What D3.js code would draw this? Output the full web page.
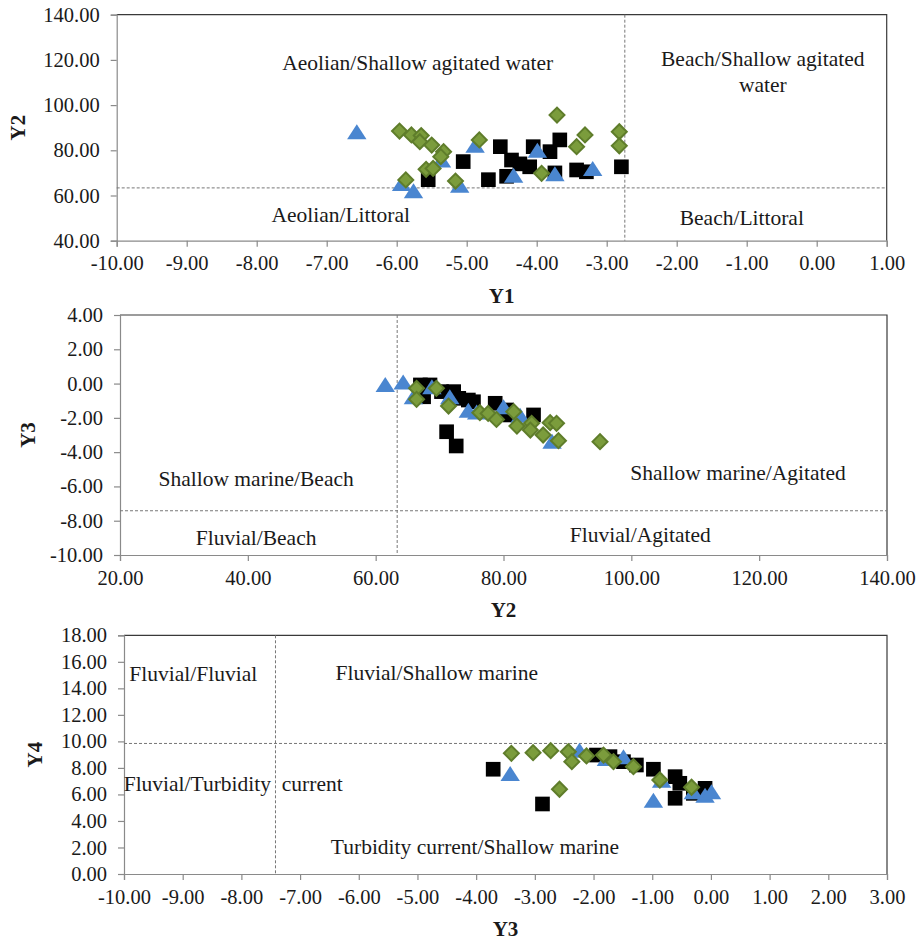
<!DOCTYPE html>
<html>
<head>
<meta charset="utf-8">
<script src="https://cdn.jsdelivr.net/npm/d3@7"></script>
<style>
  html, body { margin: 0; padding: 0; background: #fff; }
  svg text { font-family: "Liberation Serif", "Times New Roman", serif; fill: #1a1a1a; }
</style>
</head>
<body>
<svg id="chart" width="922" height="942"></svg>
<script>
// Sahu discriminant-function thresholds
const y1Limit = -2.7411;
const y2Limit = 63.365;
const y3Limit = -7.419;
const y4Limit = 9.8433;

// Panel 1: Y1 (x) vs Y2 (y)
const y1y2Square = [
  [-5.55, 67.0], [-5.05, 75.0], [-4.69, 67.0], [-4.52, 81.6], [-4.36, 75.7], [-4.43, 68.5],
  [-4.24, 74.0], [-4.10, 72.7], [-4.05, 81.6], [-3.81, 79.4], [-3.67, 84.6], [-3.74, 70.0],
  [-3.43, 71.3], [-3.29, 70.5], [-2.79, 72.7]
];
const y1y2Triangle = [
  [-6.57, 87.5], [-4.88, 81.6], [-5.36, 75.0], [-5.93, 64.6], [-5.76, 61.4], [-5.10, 63.9],
  [-3.99, 79.4], [-4.33, 68.3], [-3.74, 69.0], [-3.20, 71.3]
];
const y1y2Diamond = [
  [-5.96, 88.5], [-5.79, 86.8], [-5.65, 86.5], [-5.67, 83.8], [-5.50, 82.3], [-5.33, 79.4],
  [-5.37, 77.2], [-5.58, 71.6], [-5.48, 72.0], [-5.87, 66.9], [-5.16, 66.4], [-4.82, 84.6],
  [-3.71, 95.6], [-3.31, 86.8], [-3.43, 81.6], [-2.82, 88.2], [-2.82, 82.0], [-3.93, 69.8]
];

// Panel 2: Y2 (x) vs Y3 (y)
const y2y3Square = [
  [67.0, -0.08], [68.5, -0.08], [67.5, -0.77], [70.3, -0.47], [72.2, -0.47], [73.0, -0.86],
  [74.5, -0.96], [75.3, -1.06], [78.7, -1.15], [80.5, -1.54], [81.0, -1.83], [84.7, -1.83],
  [71.1, -2.81], [72.6, -3.64]
];
const y2y3Triangle = [
  [61.5, -0.14], [64.3, 0.0], [65.9, -0.86], [68.8, -0.28], [71.6, -0.86], [74.5, -1.64],
  [75.8, -1.74], [80.0, -1.44], [82.6, -1.93], [87.6, -3.45]
];
const y2y3Diamond = [
  [66.4, -0.28], [66.4, -0.92], [69.5, -0.28], [71.4, -1.31], [76.3, -1.70], [77.6, -1.74],
  [78.9, -2.09], [81.6, -1.64], [82.1, -2.48], [84.4, -2.32], [84.2, -2.71], [86.2, -3.00],
  [87.3, -2.28], [88.3, -2.32], [88.6, -3.33], [95.1, -3.39]
];

// Panel 3: Y3 (x) vs Y4 (y)
const y3y4Square = [
  [-3.71, 7.90], [-2.87, 5.28], [-1.95, 8.97], [-1.72, 8.85], [-1.49, 8.47], [-1.27, 8.22],
  [-0.98, 7.90], [-0.61, 7.34], [-0.61, 5.71], [-0.53, 6.84], [-0.10, 6.46], [-0.30, 6.08]
];
const y3y4Triangle = [
  [-3.42, 7.47], [-2.24, 9.22], [-1.78, 8.60], [-1.49, 8.72], [-0.98, 5.45], [-0.84, 6.96],
  [-0.30, 6.08], [-0.10, 5.83], [0.01, 6.08]
];
const y3y4Diamond = [
  [-3.40, 9.10], [-3.03, 9.15], [-2.73, 9.30], [-2.43, 9.22], [-2.37, 8.47], [-2.12, 8.90],
  [-1.83, 8.97], [-1.66, 8.47], [-1.32, 8.09], [-0.87, 7.09], [-0.33, 6.54], [-2.58, 6.39]
];

// Tick values
const y1Ticks = [-10, -9, -8, -7, -6, -5, -4, -3, -2, -1, 0, 1];
const y2Ticks = [40, 60, 80, 100, 120, 140];
const y2TicksX = [20, 40, 60, 80, 100, 120, 140];
const y3Ticks = [-10, -8, -6, -4, -2, 0, 2, 4];
const y3TicksX = [-10, -9, -8, -7, -6, -5, -4, -3, -2, -1, 0, 1, 2, 3];
const y4Ticks = [0, 2, 4, 6, 8, 10, 12, 14, 16, 18];

// Environment labels, placed in data coordinates
const labels1 = [
  { t: "Aeolian/Shallow agitated water", x: -5.70, y: 118.6 },
  { t: "Beach/Shallow agitated", x: -0.77, y: 120.4 },
  { t: "water", x: -0.77, y: 108.9 },
  { t: "Aeolian/Littoral", x: -6.80, y: 51.3 },
  { t: "Beach/Littoral", x: -1.07, y: 50.0 }
];
const labels2 = [
  { t: "Shallow marine/Beach", x: 41.3, y: -5.57 },
  { t: "Shallow marine/Agitated", x: 116.7, y: -5.22 },
  { t: "Fluvial/Beach", x: 41.3, y: -9.01 },
  { t: "Fluvial/Agitated", x: 101.4, y: -8.84 }
];
const labels3 = [
  { t: "Fluvial/Fluvial", x: -8.82, y: 15.08 },
  { t: "Fluvial/Shallow marine", x: -4.67, y: 15.16 },
  { t: "Fluvial/Turbidity\u00a0\u00a0current", x: -8.14, y: 6.79 },
  { t: "Turbidity current/Shallow marine", x: -4.02, y: 2.04 }
];

const svg = d3.select("#chart");
const SERIF = "'Liberation Serif', 'Times New Roman', serif";
const fmt = d3.formatLocale({ decimal: ".", thousands: ",", grouping: [3], currency: ["", ""], minus: "-" }).format(".2f");

const symSquare = d3.symbol().type(d3.symbolSquare).size(215)();
const symTriangle = d3.symbol().type(d3.symbolTriangle).size(130)();
const symDiamond = d3.symbol().type(d3.symbolSquare).size(112)();

function panel(cfg) {
  const x = d3.scaleLinear().domain(cfg.xDomain).range([cfg.left, cfg.right]);
  const y = d3.scaleLinear().domain(cfg.yDomain).range([cfg.bottom, cfg.top]);
  const g = svg.append("g");

  // frame: top and right edges
  g.append("path")
    .attr("d", `M${cfg.left},${cfg.top}H${cfg.right}V${cfg.bottom}`)
    .attr("fill", "none").attr("stroke", "#3a3a3a").attr("stroke-width", 1.2);

  // axes
  const xAxis = g.append("g").attr("transform", `translate(0,${cfg.bottom})`)
    .call(d3.axisBottom(x).tickValues(cfg.xTicks).tickFormat(fmt).tickSize(6).tickPadding(9));
  const yAxis = g.append("g").attr("transform", `translate(${cfg.left},0)`)
    .call(d3.axisLeft(y).tickValues(cfg.yTicks).tickFormat(fmt).tickSize(6).tickPadding(11));
  [xAxis, yAxis].forEach(a => {
    a.attr("font-family", null).attr("font-size", null);
    a.select(".domain").attr("stroke", "#8a8a8a").attr("stroke-width", 1.2);
    a.selectAll(".tick line").attr("stroke", "#8a8a8a").attr("stroke-width", 1.2);
    a.selectAll(".tick text")
      .style("font-family", SERIF).style("font-size", "20.5px").style("fill", "#1a1a1a");
  });

  // threshold lines
  g.append("line")
    .attr("x1", x(cfg.vLine)).attr("x2", x(cfg.vLine))
    .attr("y1", cfg.top).attr("y2", cfg.bottom)
    .attr("stroke", "#777").attr("stroke-width", 1).attr("stroke-dasharray", "3,2");
  g.append("line")
    .attr("x1", cfg.left).attr("x2", cfg.right)
    .attr("y1", y(cfg.hLine)).attr("y2", y(cfg.hLine))
    .attr("stroke", "#777").attr("stroke-width", 1).attr("stroke-dasharray", "3,2");

  // environment labels
  g.selectAll("text.env").data(cfg.labels).join("text")
    .attr("class", "env")
    .attr("x", d => x(d.x)).attr("y", d => y(d.y))
    .attr("text-anchor", "middle").attr("dominant-baseline", "central")
    .style("font-family", SERIF).style("font-size", "21.5px")
    .text(d => d.t);

  // markers: squares, then triangles, then diamonds on top
  g.selectAll("path.sq").data(cfg.sq).join("path")
    .attr("class", "sq").attr("d", symSquare)
    .attr("transform", d => `translate(${x(d[0])},${y(d[1])})`)
    .attr("fill", "#000");
  g.selectAll("path.tr").data(cfg.tr).join("path")
    .attr("class", "tr").attr("d", symTriangle)
    .attr("transform", d => `translate(${x(d[0])},${y(d[1]) + 1}) scale(1.12,1)`)
    .attr("fill", "#4a86d0");
  g.selectAll("path.di").data(cfg.di).join("path")
    .attr("class", "di").attr("d", symDiamond)
    .attr("transform", d => `translate(${x(d[0])},${y(d[1])}) rotate(45)`)
    .attr("fill", "#7b9c3c").attr("stroke", "#5f7d2b").attr("stroke-width", 2);

  // axis titles
  g.append("text")
    .attr("x", (cfg.left + cfg.right) / 2).attr("y", cfg.bottom + 62)
    .attr("text-anchor", "middle")
    .style("font-family", SERIF).style("font-size", "21px").style("font-weight", "bold")
    .text(cfg.xTitle);
  g.append("text")
    .attr("transform", `translate(${cfg.yTitleX},${(cfg.top + cfg.bottom) / 2}) rotate(-90)`)
    .attr("text-anchor", "middle").attr("dominant-baseline", "central")
    .style("font-family", SERIF).style("font-size", "21px").style("font-weight", "bold")
    .text(cfg.yTitle);
}

panel({
  left: 116.7, right: 886.7, top: 14.7, bottom: 240.7,
  xDomain: [-10, 1], yDomain: [40, 140], xTicks: y1Ticks, yTicks: y2Ticks,
  vLine: y1Limit, hLine: y2Limit, labels: labels1,
  sq: y1y2Square, tr: y1y2Triangle, di: y1y2Diamond,
  xTitle: "Y1", yTitle: "Y2", yTitleX: 18
});

panel({
  left: 120, right: 887, top: 315, bottom: 555,
  xDomain: [20, 140], yDomain: [-10, 4], xTicks: y2TicksX, yTicks: y3Ticks,
  vLine: y2Limit, hLine: y3Limit, labels: labels2,
  sq: y2y3Square, tr: y2y3Triangle, di: y2y3Diamond,
  xTitle: "Y2", yTitle: "Y3", yTitleX: 28
});

panel({
  left: 124, right: 887, top: 635.3, bottom: 874,
  xDomain: [-10, 3], yDomain: [0, 18], xTicks: y3TicksX, yTicks: y4Ticks,
  vLine: y3Limit, hLine: y4Limit, labels: labels3,
  sq: y3y4Square, tr: y3y4Triangle, di: y3y4Diamond,
  xTitle: "Y3", yTitle: "Y4", yTitleX: 35
});
</script>
</body>
</html>
